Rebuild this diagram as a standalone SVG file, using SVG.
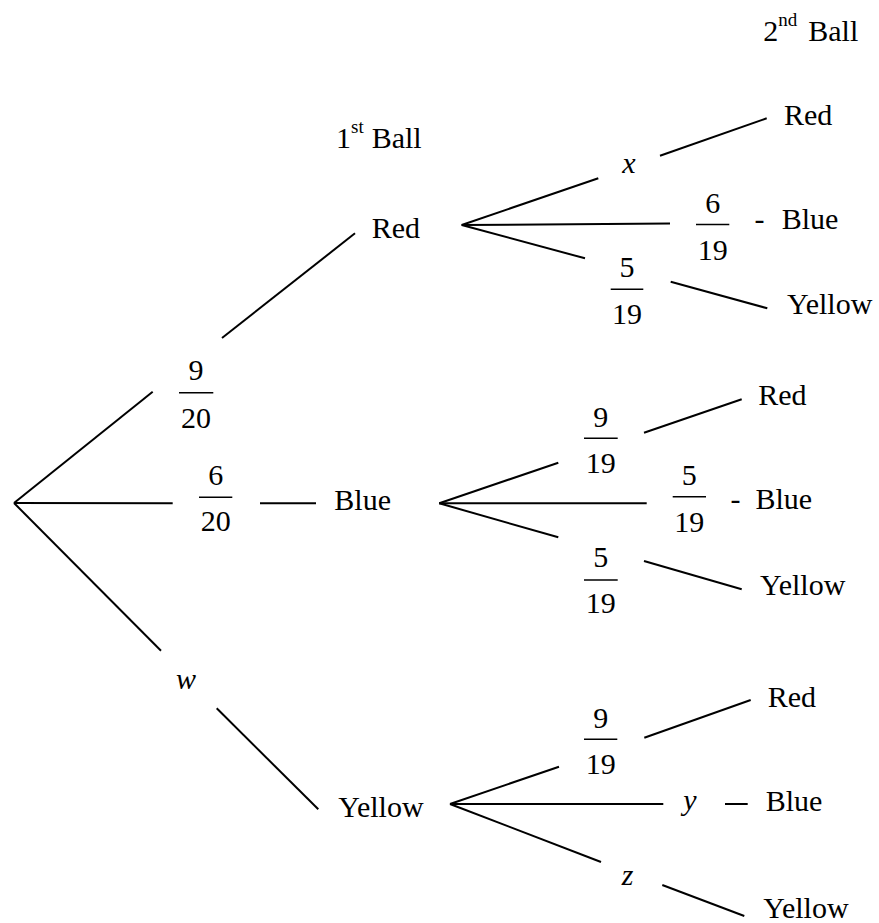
<svg xmlns="http://www.w3.org/2000/svg" width="879" height="923" viewBox="0 0 879 923">
<style>
text{font-family:"Times New Roman","Liberation Serif",Tinos,"DejaVu Serif","Noto Serif",FreeSerif,Times,serif;font-size:30px;fill:#000}
.it{font-style:italic}
.m{text-anchor:middle}
.sup{font-size:19px}
line{stroke:#000;stroke-width:2;fill:none}
.bar{stroke-width:1.6}
</style>
<rect width="879" height="923" fill="#fff"/>
<g id="connectors">
<line x1="14" y1="503" x2="152.7" y2="391.7"/>
<line x1="14" y1="503" x2="172.7" y2="503.3"/>
<line x1="14" y1="503" x2="161" y2="650.7"/>
<line x1="222" y1="338" x2="355" y2="233.3"/>
<line x1="260" y1="503.3" x2="316" y2="503.3"/>
<line x1="216.7" y1="708.3" x2="318.3" y2="809.3"/>
<line x1="461.7" y1="225" x2="598.3" y2="178.3"/>
<line x1="461.7" y1="225" x2="670" y2="223.5"/>
<line x1="461.7" y1="225" x2="585" y2="258.3"/>
<line x1="660" y1="155.7" x2="766.7" y2="118.3"/>
<line x1="670.7" y1="281.7" x2="767.3" y2="308.3"/>
<line x1="439.3" y1="503.3" x2="558.3" y2="462.7"/>
<line x1="439.3" y1="503.3" x2="646.7" y2="503.3"/>
<line x1="439.3" y1="503.3" x2="558.3" y2="537.3"/>
<line x1="644" y1="432.7" x2="741.7" y2="399.3"/>
<line x1="644" y1="561" x2="741.7" y2="589.3"/>
<line x1="450" y1="804" x2="559" y2="766.7"/>
<line x1="450" y1="804" x2="663.3" y2="804"/>
<line x1="450" y1="804" x2="601" y2="862"/>
<line x1="644.3" y1="737.7" x2="750.7" y2="700"/>
<line x1="725" y1="804" x2="747.7" y2="804"/>
<line x1="662.3" y1="885" x2="744.3" y2="916"/>
</g>
<g id="header-1st"><text x="336" y="148.3">1<tspan class="sup" dy="-15">st</tspan><tspan x="371.7" dy="15">Ball</tspan></text></g>
<g id="header-2nd"><text x="763.3" y="40.7">2<tspan class="sup" dy="-15">nd</tspan><tspan x="808.3" dy="15">Ball</tspan></text></g>
<g id="node-red"><text x="371.7" y="238.3">Red</text></g>
<g id="node-blue"><text x="334.3" y="510">Blue</text></g>
<g id="node-yellow"><text x="338.3" y="816.7">Yellow</text></g>
<g id="p-red"><text class="m" x="196" y="380">9</text><line class="bar" x1="179" y1="392.7" x2="213.3" y2="392.7"/><text class="m" x="196" y="428.3">20</text></g>
<g id="p-blue"><text class="m" x="215.7" y="485">6</text><line class="bar" x1="199" y1="497.3" x2="232.3" y2="497.3"/><text class="m" x="215.7" y="530.7">20</text></g>
<g id="p-yellow"><text class="it m" x="186" y="689">w</text></g>
<g id="rr"><text class="it m" x="629" y="173">x</text><text x="784" y="125">Red</text></g>
<g id="rb"><text class="m" x="712.7" y="213">6</text><line class="bar" x1="696" y1="224.5" x2="729.3" y2="224.5"/><text class="m" x="712.7" y="260">19</text><text x="754.5" y="229">-</text><text x="781.7" y="229">Blue</text></g>
<g id="ry"><text class="m" x="627" y="277">5</text><line class="bar" x1="610.7" y1="289.3" x2="643.3" y2="289.3"/><text class="m" x="627" y="323.5">19</text><text x="787" y="314">Yellow</text></g>
<g id="br"><text class="m" x="600.8" y="426.7">9</text><line class="bar" x1="584" y1="438.3" x2="617.7" y2="438.3"/><text class="m" x="600.8" y="472.7">19</text><text x="758.3" y="405">Red</text></g>
<g id="bb"><text class="m" x="689.3" y="485">5</text><line class="bar" x1="672.7" y1="496.7" x2="706" y2="496.7"/><text class="m" x="689.3" y="531.7">19</text><text x="730.5" y="509">-</text><text x="755.5" y="509.3">Blue</text></g>
<g id="by"><text class="m" x="600.8" y="567.3">5</text><line class="bar" x1="584" y1="580" x2="617.7" y2="580"/><text class="m" x="600.8" y="613.3">19</text><text x="760" y="595">Yellow</text></g>
<g id="yr"><text class="m" x="600.7" y="727.5">9</text><line class="bar" x1="584" y1="739.3" x2="617.3" y2="739.3"/><text class="m" x="600.7" y="774">19</text><text x="767.7" y="706.7">Red</text></g>
<g id="yb"><text class="it m" x="690" y="810">y</text><text x="765.7" y="811">Blue</text></g>
<g id="yy"><text class="it m" x="627.5" y="885">z</text><text x="763.3" y="918">Yellow</text></g>
</svg>
